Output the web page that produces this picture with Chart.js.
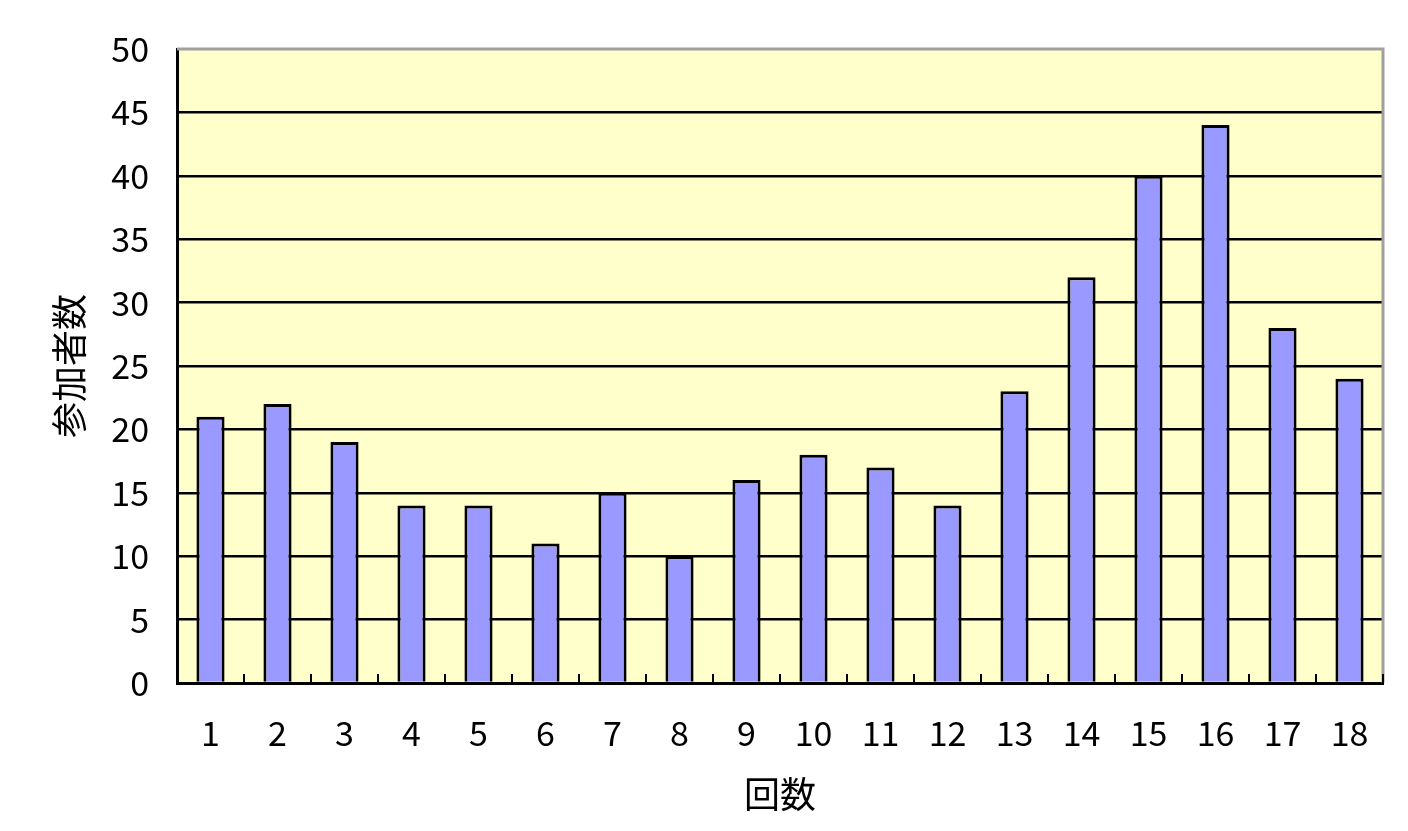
<!DOCTYPE html>
<html>
<head>
<meta charset="utf-8">
<script src="https://cdn.jsdelivr.net/npm/chart.js@4/dist/chart.umd.min.js"></script>
<style>
  html, body { margin: 0; padding: 0; background: #fff; }
  #wrap { width: 1408px; height: 831px; }
</style>
</head>
<body>
<div id="wrap"><canvas id="sankaChart" width="1408" height="831"></canvas></div>
<script>
const rounds = ['1','2','3','4','5','6','7','8','9','10','11','12','13','14','15','16','17','18'];
const participants = [21, 22, 19, 14, 14, 11, 15, 10, 16, 18, 17, 14, 23, 32, 40, 44, 28, 24];
const yTitle = '参加者数';
const xTitle = '回数';

const font = '"Noto Sans CJK JP", "Liberation Sans", sans-serif';

// plot frame: grey top/right, inward tick marks between categories
const framePlugin = {
  id: 'frame',
  beforeDraw(chart) {
    const a = chart.chartArea, ctx = chart.ctx;
    ctx.save();
    ctx.fillStyle = '#FFFFCC';
    ctx.fillRect(a.left, a.top, a.right - a.left, a.bottom - a.top);
    ctx.restore();
  },
  afterDraw(chart) {
    const a = chart.chartArea, ctx = chart.ctx;
    const x = chart.scales.x;
    ctx.save();
    ctx.strokeStyle = '#A0A0A0';
    ctx.lineWidth = 3;
    ctx.beginPath();
    ctx.moveTo(a.left, a.top);
    ctx.lineTo(a.right, a.top);
    ctx.lineTo(a.right, a.bottom);
    ctx.stroke();
    ctx.strokeStyle = '#000';
    ctx.lineWidth = 2;
    const step = x.width / rounds.length;
    ctx.beginPath();
    for (let i = 1; i <= rounds.length; i++) {
      const px = Math.round(x.left + i * step);
      ctx.moveTo(px, a.bottom);
      ctx.lineTo(px, a.bottom - 9);
    }
    ctx.stroke();
    ctx.restore();
  }
};

new Chart(document.getElementById('sankaChart').getContext('2d'), {
  type: 'bar',
  data: {
    labels: rounds,
    datasets: [{
      label: yTitle,
      data: participants,
      backgroundColor: '#9999FF',
      borderColor: '#000',
      borderWidth: 3,
      categoryPercentage: 0.42,
      barPercentage: 1.0
    }]
  },
  options: {
    responsive: false,
    animation: false,
    layout: { padding: { top: 49, right: 25, left: 0, bottom: 0 } },
    plugins: {
      legend: { display: false },
      tooltip: { enabled: false }
    },
    scales: {
      x: {
        grid: { display: false, drawTicks: false },
        border: { color: '#000', width: 3 },
        ticks: { color: '#000', font: { family: font, size: 34 }, padding: 30, maxRotation: 0 },
        title: { display: true, text: xTitle, color: '#000', font: { family: font, size: 36 }, padding: { top: 10, bottom: 15 } },
        afterFit(s) { s.height = 148; }
      },
      y: {
        min: 0,
        max: 50,
        ticks: { stepSize: 5, color: '#000', font: { family: font, size: 34 }, padding: 28 },
        grid: {
          drawTicks: false,
          lineWidth: 2.5,
          color: (c) => (c.tick && c.tick.value === 50 ? 'rgba(0,0,0,0)' : '#000')
        },
        border: { color: '#000', width: 3 },
        title: { display: true, text: yTitle, color: '#000', font: { family: font, size: 36 }, padding: { top: 48, bottom: 0 } },
        afterFit(s) { s.width = 177; }
      }
    }
  },
  plugins: [framePlugin]
});
</script>
</body>
</html>
